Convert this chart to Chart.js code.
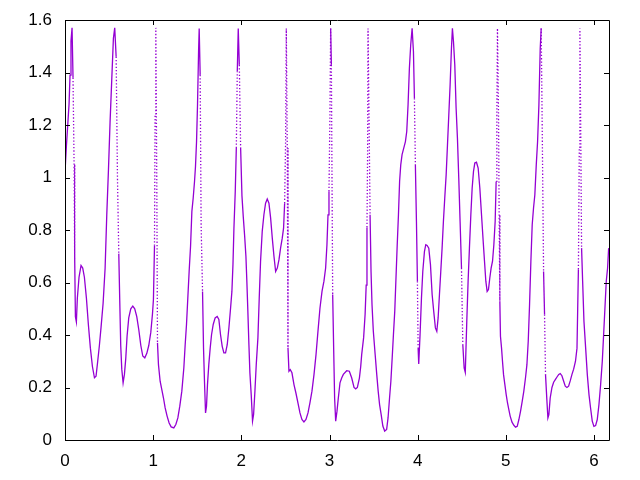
<!DOCTYPE html>
<html>
<head>
<meta charset="utf-8">
<script src="https://cdn.jsdelivr.net/npm/chart.js@4.4.0/dist/chart.umd.min.js"></script>
<style>
html,body{margin:0;padding:0;background:#fff;}
#wrap{width:640px;height:480px;}
</style>
</head>
<body>
<div id="wrap"><canvas id="c" width="640" height="480"></canvas></div>
<script>
const xValues = [
0.000,0.016,0.031,0.046,0.057,0.068,0.080,0.091,0.103,0.110,0.118,0.129,0.140,0.159,0.182,0.201,0.220,0.243,0.265,0.288,
0.311,0.334,0.352,0.371,0.390,0.409,0.432,0.455,0.474,0.493,0.511,0.530,0.549,0.564,0.580,0.595,0.610,0.621,0.632,0.644,
0.659,0.674,0.689,0.704,0.723,0.746,0.769,0.791,0.814,0.837,0.860,0.882,0.905,0.928,0.950,0.973,0.992,1.003,1.015,1.022,
1.030,1.041,1.049,1.060,1.079,1.098,1.117,1.136,1.158,1.181,1.204,1.234,1.257,1.280,1.302,1.325,1.348,1.363,1.378,1.393,
1.408,1.424,1.439,1.454,1.469,1.480,1.492,1.503,1.515,1.522,1.533,1.544,1.560,1.571,1.582,1.594,1.605,1.616,1.631,1.647,
1.662,1.681,1.703,1.726,1.745,1.764,1.783,1.802,1.821,1.840,1.859,1.878,1.893,1.905,1.916,1.931,1.943,1.954,1.965,1.977,
1.992,2.007,2.022,2.037,2.052,2.063,2.074,2.086,2.097,2.112,2.127,2.139,2.154,2.169,2.188,2.203,2.218,2.237,2.256,2.275,
2.294,2.313,2.332,2.351,2.370,2.389,2.408,2.427,2.445,2.464,2.479,2.491,2.502,2.510,2.521,2.529,2.540,2.555,2.574,2.597,
2.619,2.642,2.665,2.687,2.710,2.733,2.756,2.778,2.801,2.824,2.847,2.869,2.892,2.915,2.937,2.956,2.971,2.983,2.994,3.005,
3.013,3.021,3.036,3.047,3.058,3.070,3.085,3.100,3.119,3.138,3.157,3.195,3.225,3.252,3.278,3.297,3.316,3.339,3.354,3.365,
3.387,3.404,3.416,3.425,3.432,3.437,3.448,3.460,3.471,3.482,3.497,3.518,3.536,3.552,3.568,3.586,3.605,3.626,3.648,3.664,
3.681,3.696,3.711,3.725,3.740,3.754,3.768,3.782,3.795,3.808,3.823,3.842,3.861,3.876,3.891,3.906,3.921,3.937,3.952,3.963,
3.974,3.986,3.997,4.005,4.012,4.027,4.043,4.058,4.077,4.092,4.107,4.126,4.145,4.164,4.182,4.201,4.217,4.232,4.247,4.262,
4.277,4.292,4.307,4.323,4.338,4.353,4.368,4.383,4.394,4.406,4.421,4.436,4.451,4.466,4.481,4.497,4.512,4.527,4.540,4.557,
4.572,4.587,4.603,4.618,4.633,4.648,4.667,4.686,4.705,4.724,4.743,4.758,4.773,4.788,4.803,4.818,4.833,4.849,4.864,4.879,
4.890,4.898,4.905,4.917,4.924,4.932,4.939,4.951,4.962,4.974,4.989,5.004,5.019,5.034,5.049,5.070,5.091,5.110,5.129,5.148,
5.167,5.186,5.204,5.223,5.239,5.254,5.269,5.284,5.299,5.314,5.329,5.345,5.360,5.375,5.390,5.401,5.413,5.428,5.439,5.450,
5.466,5.477,5.488,5.503,5.523,5.542,5.561,5.580,5.600,5.617,5.636,5.655,5.674,5.693,5.712,5.731,5.750,5.769,5.790,5.807,
5.815,5.823,5.833,5.840,5.848,5.859,5.871,5.886,5.905,5.924,5.943,5.961,5.980,5.999,6.018,6.037,6.056,6.075,6.094,6.109,
6.124,6.139,6.154,6.166
];
const yValues = [
1.02,1.12,1.20,1.28,1.39,1.52,1.57,1.38,1.05,0.69,0.47,0.45,0.54,0.62,0.665,0.655,0.62,0.54,0.44,0.35,
0.28,0.237,0.243,0.30,0.36,0.43,0.52,0.655,0.86,1.03,1.21,1.37,1.53,1.57,1.46,1.00,0.71,0.53,0.36,0.27,
0.218,0.25,0.31,0.395,0.465,0.50,0.51,0.50,0.47,0.42,0.36,0.32,0.313,0.33,0.36,0.41,0.48,0.535,0.74,1.24,
1.57,0.985,0.37,0.287,0.224,0.192,0.16,0.122,0.091,0.065,0.05,0.046,0.059,0.084,0.129,0.186,0.275,0.363,0.44,0.541,
0.642,0.738,0.871,0.922,0.985,1.042,1.137,1.277,1.48,1.568,1.391,0.82,0.566,0.351,0.224,0.103,0.129,0.211,0.287,0.351,
0.401,0.44,0.465,0.471,0.459,0.401,0.357,0.332,0.332,0.363,0.427,0.503,0.566,0.668,0.807,0.947,1.112,1.404,1.568,1.429,
1.112,0.93,0.85,0.78,0.70,0.60,0.49,0.363,0.256,0.173,0.072,0.097,0.186,0.287,0.389,0.541,0.681,0.795,0.858,0.902,
0.918,0.902,0.846,0.769,0.700,0.642,0.655,0.687,0.731,0.769,0.807,0.902,1.137,1.568,1.112,0.351,0.262,0.268,0.256,0.211,
0.179,0.141,0.103,0.078,0.069,0.078,0.103,0.141,0.186,0.249,0.325,0.414,0.503,0.566,0.605,0.655,0.744,0.858,0.947,1.238,
1.568,1.429,0.554,0.351,0.160,0.072,0.11,0.16,0.218,0.236,0.25,0.264,0.262,0.236,0.20,0.195,0.20,0.236,0.28,0.325,
0.39,0.48,0.59,0.81,1.09,1.568,1.238,0.858,0.642,0.516,0.414,0.325,0.249,0.186,0.135,0.097,0.053,0.034,0.040,0.084,
0.160,0.224,0.313,0.401,0.490,0.617,0.744,0.858,0.985,1.048,1.087,1.112,1.137,1.175,1.277,1.416,1.505,1.568,1.480,1.302,
1.048,0.833,0.605,0.351,0.29,0.401,0.541,0.642,0.719,0.744,0.741,0.731,0.668,0.554,0.490,0.427,0.414,0.465,0.554,0.642,
0.731,0.833,0.921,1.010,1.124,1.238,1.353,1.492,1.568,1.518,1.429,1.264,1.150,0.998,0.833,0.655,0.363,0.275,0.258,0.452,
0.605,0.731,0.858,0.960,1.023,1.055,1.058,1.036,0.960,0.858,0.757,0.681,0.605,0.566,0.573,0.617,0.655,0.681,0.744,0.833,
0.985,1.238,1.568,1.238,0.858,0.528,0.395,0.351,0.300,0.249,0.211,0.173,0.141,0.116,0.091,0.068,0.056,0.049,0.052,0.078,
0.110,0.148,0.186,0.237,0.287,0.376,0.516,0.681,0.820,0.884,0.934,1.048,1.137,1.277,1.492,1.568,1.175,0.642,0.478,0.249,
0.148,0.084,0.097,0.160,0.20,0.22,0.23,0.24,0.25,0.253,0.245,0.225,0.205,0.20,0.205,0.226,0.25,0.27,0.30,0.35,
0.50,0.65,1.11,1.568,1.238,0.731,0.605,0.452,0.351,0.249,0.173,0.122,0.072,0.052,0.055,0.078,0.135,0.211,0.300,0.401,
0.503,0.605,0.655,0.731
];
const xTicks = [0, 1, 2, 3, 4, 5, 6];
const yTicks = [0, 0.2, 0.4, 0.6, 0.8, 1, 1.2, 1.4, 1.6];

const points = xValues.map((x, i) => ({ x: x, y: yValues[i] }));
const fontSpec = { family: "'Liberation Sans', Arial, sans-serif", size: 17 };

const frameTicks = {
  id: 'frameTicks',
  afterDraw(chart) {
    const { ctx, chartArea: a, scales } = chart;
    ctx.save();
    ctx.strokeStyle = '#000';
    ctx.lineWidth = 1;
    ctx.beginPath();
    ctx.rect(Math.round(a.left) + 0.5, Math.round(a.top) + 0.5,
             Math.round(a.right - a.left), Math.round(a.bottom - a.top));
    const L = 5;
    scales.x.ticks.forEach(t => {
      const px = Math.round(scales.x.getPixelForValue(t.value)) + 0.5;
      ctx.moveTo(px, a.bottom); ctx.lineTo(px, a.bottom - L);
      ctx.moveTo(px, a.top); ctx.lineTo(px, a.top + L);
    });
    scales.y.ticks.forEach(t => {
      const py = Math.round(scales.y.getPixelForValue(t.value)) + 0.5;
      ctx.moveTo(a.left, py); ctx.lineTo(a.left + L, py);
      ctx.moveTo(a.right, py); ctx.lineTo(a.right - L, py);
    });
    ctx.stroke();
    ctx.restore();
  }
};

function steep(c) {
  const dy = Math.abs(c.p1.y - c.p0.y);
  const dx = Math.abs(c.p1.x - c.p0.x);
  return dy > 60 && dy > 25 * dx;
}

new Chart(document.getElementById('c'), {
  type: 'line',
  data: {
    datasets: [{
      data: points,
      borderColor: '#9400d3',
      borderWidth: 1.3,
      pointRadius: 0,
      tension: 0,
      fill: false,
      segment: {
        borderDash: c => steep(c) ? [1.3, 2] : undefined
      }
    }]
  },
  options: {
    responsive: false,
    animation: false,
    devicePixelRatio: 1,
    layout: { padding: { top: 20, right: 31, left: 0, bottom: 0 } },
    plugins: { legend: { display: false }, tooltip: { enabled: false } },
    scales: {
      x: {
        type: 'linear', min: 0, max: 6.17,
        afterBuildTicks: s => { s.ticks = xTicks.map(v => ({ value: v })); },
        afterFit: s => { s.height = 40; s.paddingLeft = 0; s.paddingRight = 0; },
        grid: { display: false, drawTicks: false },
        border: { display: false },
        ticks: { color: '#000', font: fontSpec, padding: 11, maxRotation: 0,
                 callback: v => String(v) }
      },
      y: {
        type: 'linear', min: 0, max: 1.6,
        afterBuildTicks: s => { s.ticks = yTicks.map(v => ({ value: v })); },
        afterFit: s => { s.width = 65; s.paddingTop = 0; s.paddingBottom = 0; },
        grid: { display: false, drawTicks: false },
        border: { display: false },
        ticks: { color: '#000', font: fontSpec, padding: 13,
                 callback: v => String(Math.round(v * 10) / 10) }
      }
    }
  },
  plugins: [frameTicks]
});
</script>
</body>
</html>
